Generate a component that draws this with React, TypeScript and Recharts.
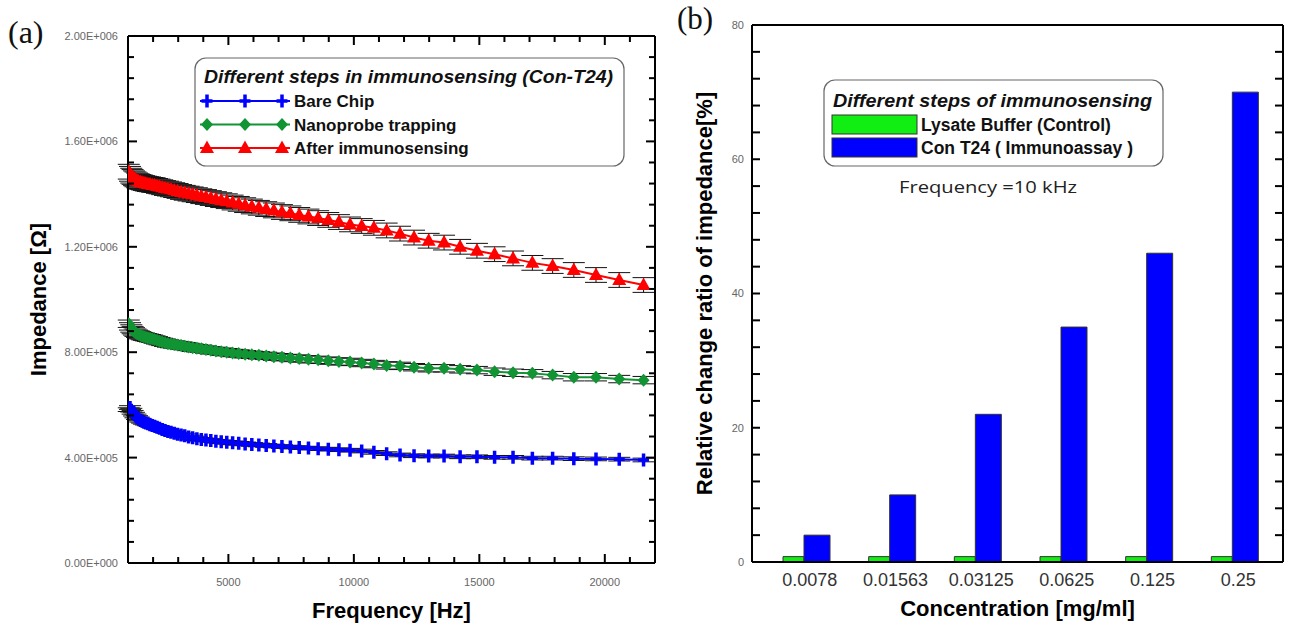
import React from 'react';
import { LineChart, ComposedChart, Line, XAxis, YAxis, ErrorBar, Legend, Bar, Label } from 'recharts';

const FONT = '"Liberation Sans", Arial, Helvetica, sans-serif';

// ---------- Panel (a) data ----------
const freqHz = [1031, 1080, 1131, 1184, 1240, 1298, 1359, 1424, 1491, 1561, 1634, 1711, 1792, 1877, 1965, 2058, 2155, 2256, 2363, 2474, 2591, 2713, 2841, 2975, 3115, 3261, 3415, 3576, 3745, 3921, 4106, 4299, 4502, 4714, 4936, 5169, 5412, 5667, 5934, 6214, 6507, 6813, 7134, 7471, 7823, 8191, 8577, 8982, 9405, 9848, 10312, 10798, 11307, 11840, 12398, 12982, 13594, 14234, 14905, 15608, 16343, 17113, 17920, 18765, 19649, 20575, 21544];

const bareChip = [582000, 590000, 580000, 572000, 565000, 558000, 552000, 547000, 542000, 538000, 534000, 531000, 528000, 525000, 522000, 519000, 515000, 511000, 507000, 503000, 499000, 496000, 492000, 489000, 486000, 483000, 478000, 475000, 472000, 469000, 467000, 465000, 462000, 460000, 458000, 456000, 454000, 452000, 450000, 448000, 446000, 444000, 442000, 440000, 438000, 436000, 434000, 432000, 430000, 428000, 425000, 420000, 415000, 410000, 407000, 406000, 406000, 403000, 403000, 401000, 401000, 398000, 398000, 396000, 395000, 394000, 391000];

const nanoprobeTrapping = [908000, 898000, 890000, 884000, 879000, 874000, 870000, 867000, 864000, 861000, 859000, 857000, 855000, 853000, 851000, 848000, 845000, 842000, 839000, 836000, 833000, 831000, 829000, 827000, 825000, 823000, 820000, 817000, 815000, 813000, 810000, 807000, 805000, 802000, 800000, 797000, 795000, 792000, 790000, 788000, 786000, 783000, 781000, 778000, 776000, 773000, 771000, 768000, 765000, 763000, 759000, 755000, 750000, 748000, 743000, 739000, 739000, 735000, 732000, 726000, 722000, 720000, 713000, 705000, 705000, 698000, 694000];

const afterImmunosensing = [1485000, 1477000, 1470000, 1465000, 1460000, 1456000, 1452000, 1449000, 1446000, 1444000, 1442000, 1440000, 1438000, 1437000, 1435000, 1434000, 1431000, 1429000, 1426000, 1423000, 1421000, 1418000, 1415000, 1412000, 1408000, 1405000, 1402000, 1399000, 1396000, 1392000, 1389000, 1385000, 1381000, 1377000, 1373000, 1368000, 1363000, 1358000, 1353000, 1348000, 1343000, 1338000, 1332000, 1327000, 1321000, 1315000, 1309000, 1302000, 1294000, 1285000, 1279000, 1272000, 1262000, 1250000, 1235000, 1223000, 1216000, 1200000, 1185000, 1172000, 1156000, 1139000, 1127000, 1112000, 1093000, 1074000, 1055000];

const bareChipErr = 7000;
const nanoprobeErr = 14000;
const afterErr = 28000;

const freqTicks = [1000, 2000, 3000, 4000, 5000, 6000, 7000, 8000, 9000, 10000, 11000, 12000, 13000, 14000, 15000, 16000, 17000, 18000, 19000, 20000, 21000, 22000];
const impedanceTicks = [0, 80000, 160000, 240000, 320000, 400000, 480000, 560000, 640000, 720000, 800000, 880000, 960000, 1040000, 1120000, 1200000, 1280000, 1360000, 1440000, 1520000, 1600000, 1680000, 1760000, 1840000, 1920000, 2000000];

const lineData = freqHz.map((f, i) => ({
  f,
  bare: bareChip[i],
  nano: nanoprobeTrapping[i],
  after: afterImmunosensing[i],
  bareErr: bareChipErr,
  nanoErr: nanoprobeErr,
  afterErr: afterErr,
}));

const lineSeries = [
  { key: 'bare', name: 'Bare Chip', color: '#0000ff', shape: 'plus' },
  { key: 'nano', name: 'Nanoprobe trapping', color: '#119433', shape: 'diamond' },
  { key: 'after', name: 'After immunosensing', color: '#ff0000', shape: 'triangle' },
];

// ---------- Panel (b) data ----------
const concentrations = ['0.0078', '0.01563', '0.03125', '0.0625', '0.125', '0.25'];
const lysateBuffer = [0.8, 0.8, 0.8, 0.8, 0.8, 0.8];
const conT24 = [4, 10, 22, 35, 46, 70];
const ratioTicks = [0, 4, 8, 12, 16, 20, 24, 28, 32, 36, 40, 44, 48, 52, 56, 60, 64, 68, 72, 76, 80];

const barData = concentrations.map((c, i) => ({ c, lysate: lysateBuffer[i], con: conT24[i] }));

const barSeries = [
  { key: 'lysate', name: 'Lysate Buffer (Control)', color: '#11ee11' },
  { key: 'con', name: 'Con T24 ( Immunoassay )', color: '#0000ff' },
];

// ---------- helpers ----------
function fmtSci(v: number) {
  const [m, e] = Number(v).toExponential(2).split('e');
  const sign = e[0] === '-' ? '-' : '+';
  const digits = e.replace(/[+-]/, '').padStart(3, '0');
  return `${m.toUpperCase()}E${sign}${digits}`;
}

function marker(shape: string, cx: number, cy: number, color: string, key?: string) {
  if (shape === 'plus') {
    return (
      <path key={key} d={`M${cx - 5.5},${cy}H${cx + 5.5}M${cx},${cy - 6.5}V${cy + 6.5}`} stroke={color} strokeWidth={3.5} fill="none" />
    );
  }
  if (shape === 'diamond') {
    return <polygon key={key} points={`${cx},${cy - 6.5} ${cx + 6},${cy} ${cx},${cy + 6.5} ${cx - 6},${cy}`} fill={color} />;
  }
  return <polygon key={key} points={`${cx},${cy - 7.5} ${cx + 7},${cy + 5} ${cx - 7},${cy + 5}`} fill={color} />;
}

const makeDot = (shape: string, color: string, prefix: string) => (p: any) => {
  if (p.cx == null || p.cy == null) return <g key={`${prefix}-${p.index}`} />;
  return marker(shape, p.cx, p.cy, color, `${prefix}-${p.index}`);
};

const LEFT_TM = 10;
const BOTTOM_TM = 15;

function LeftImpTick(props: any) {
  const x = Number(props.x);
  const y = Number(props.y);
  const v = Number(props.payload.value);
  const major = v % 400000 === 0;
  const ax = x + LEFT_TM;
  return (
    <g>
      <path d={`M${ax},${y}H${ax + (major ? 9 : 6)}`} stroke="#000" strokeWidth={2} fill="none" />
      {major && (
        <text x={x} y={y} dy="0.355em" textAnchor="end" fontSize={11} fill="#666" stroke="none" fontFamily={FONT}>
          {fmtSci(v)}
        </text>
      )}
    </g>
  );
}

function RightTick(props: any) {
  const x = Number(props.x);
  const y = Number(props.y);
  const major = Number(props.payload.value) % props.majorStep === 0;
  const len = major ? props.majorLen : props.minorLen;
  return <path d={`M${x},${y}H${x - len}`} stroke="#000" strokeWidth={2} fill="none" />;
}

function BottomFreqTick(props: any) {
  const x = Number(props.x);
  const y = Number(props.y);
  const v = Number(props.payload.value);
  const major = v % 5000 === 0;
  const ay = y - BOTTOM_TM;
  return (
    <g>
      <path d={`M${x},${ay}V${ay - (major ? 9 : 6)}`} stroke="#000" strokeWidth={2} fill="none" />
      {major && (
        <text x={x} y={y} dy="0.71em" textAnchor="middle" fontSize={11} fill="#666" stroke="none" fontFamily={FONT}>
          {v}
        </text>
      )}
    </g>
  );
}

function TopFreqTick(props: any) {
  const x = Number(props.x);
  const y = Number(props.y);
  const major = Number(props.payload.value) % 5000 === 0;
  return <path d={`M${x},${y}V${y + (major ? 9 : 6)}`} stroke="#000" strokeWidth={2} fill="none" />;
}

function LeftRatioTick(props: any) {
  const x = Number(props.x);
  const y = Number(props.y);
  const v = Number(props.payload.value);
  const major = v % 20 === 0;
  const ax = x + 8;
  return (
    <g>
      <path d={`M${ax},${y}H${ax + 8}`} stroke="#000" strokeWidth={2} fill="none" />
      {major && (
        <text x={x} y={y} dy="0.355em" textAnchor="end" fontSize={11} fill="#666" stroke="none" fontFamily={FONT}>
          {v}
        </text>
      )}
    </g>
  );
}

function LeftLegend() {
  return (
    <svg width={432} height={112} style={{ display: 'block' }}>
      <rect x={1} y={1} width={429} height={108} rx={11} ry={11} fill="#fff" stroke="#666" strokeWidth={1.2} />
      <text x={10} y={26} fontSize={18} textLength={409} lengthAdjust="spacingAndGlyphs" fontWeight="bold" fontStyle="italic" fontFamily={FONT} fill="#111">
        Different steps in immunosensing (Con-T24)
      </text>
      {lineSeries.map((s, i) => {
        const cy = 44 + i * 23.5;
        return (
          <g key={s.key}>
            <line x1={6} x2={96} y1={cy} y2={cy} stroke={s.color} strokeWidth={2} />
            {marker(s.shape, 13, cy, s.color)}
            {marker(s.shape, 51, cy, s.color)}
            {marker(s.shape, 88, cy, s.color)}
            <text x={100} y={cy} dy="0.36em" fontSize={17} fontWeight="bold" fontFamily={FONT} fill="#111">
              {s.name}
            </text>
          </g>
        );
      })}
    </svg>
  );
}

function RightLegend() {
  return (
    <svg width={342} height={90} style={{ display: 'block' }}>
      <rect x={1} y={1} width={339} height={86} rx={11} ry={11} fill="#fff" stroke="#666" strokeWidth={1.2} />
      <text x={10} y={28} fontSize={18.5} textLength={319} lengthAdjust="spacingAndGlyphs" fontWeight="bold" fontStyle="italic" fontFamily={FONT} fill="#111">
        Different steps of immunosensing
      </text>
      {barSeries.map((s, i) => {
        const top = 36 + i * 23;
        return (
          <g key={s.key}>
            <rect x={9} y={top} width={85} height={19} fill={s.color} stroke="#333" strokeWidth={1} />
            <text x={98} y={top + 9.5} dy="0.36em" fontSize={17.5} fontWeight="bold" fontFamily={FONT} fill="#111">
              {s.name}
            </text>
          </g>
        );
      })}
    </svg>
  );
}

const axisStroke = { stroke: '#000', strokeWidth: 2 };
const titleStyle = { fontSize: 22, fontWeight: 'bold', fontFamily: FONT, fill: '#000' } as any;

const FREQ_DOMAIN = [1000, 22000];
const IMP_DOMAIN = [0, 2000000];
const RATIO_DOMAIN = [0, 80];

export default function App() {
  return (
    <div style={{ position: 'relative', width: 1290, height: 624, overflow: 'hidden', background: '#fff' }}>
      <style>{`body{margin:0;}`}</style>

      <div style={{ position: 'absolute', left: 0, top: 0 }}>
        <LineChart width={662} height={624} data={lineData} margin={{ top: 35, right: 6, bottom: 0, left: 0 }}>
          <XAxis
            dataKey="f"
            type="number"
            domain={FREQ_DOMAIN}
            allowDataOverflow
            ticks={freqTicks}
            interval={0}
            height={61}
            tickSize={0}
            tickMargin={BOTTOM_TM}
            tickLine={false}
            axisLine={axisStroke}
            tick={<BottomFreqTick />}
          >
            <Label value="Frequency [Hz]" position="insideBottom" offset={6} style={titleStyle} />
          </XAxis>
          <XAxis
            xAxisId="top"
            dataKey="f"
            orientation="top"
            type="number"
            domain={FREQ_DOMAIN}
            allowDataOverflow
            ticks={freqTicks}
            interval={0}
            height={1}
            tickSize={0}
            tickMargin={0}
            tickLine={false}
            axisLine={axisStroke}
            tick={<TopFreqTick />}
          />
          <YAxis
            type="number"
            domain={IMP_DOMAIN}
            allowDataOverflow
            ticks={impedanceTicks}
            interval={0}
            width={128}
            tickSize={0}
            tickMargin={LEFT_TM}
            tickLine={false}
            axisLine={axisStroke}
            tick={<LeftImpTick />}
          >
            <Label value="Impedance [Ω]" angle={-90} position="insideLeft" offset={38} style={{ ...titleStyle, textAnchor: 'middle' }} />
          </YAxis>
          <YAxis
            yAxisId="right"
            orientation="right"
            type="number"
            domain={IMP_DOMAIN}
            allowDataOverflow
            ticks={impedanceTicks}
            interval={0}
            width={1}
            tickSize={0}
            tickMargin={0}
            tickLine={false}
            axisLine={axisStroke}
            tick={<RightTick majorStep={400000} majorLen={9} minorLen={6} />}
          />
          {/* invisible carrier series so the top/right frame axes are drawn */}
          <Line xAxisId="top" yAxisId="right" dataKey="after" stroke="none" dot={false} activeDot={false} legendType="none" isAnimationActive={false} />
          {lineSeries.map((s) => (
            <Line
              key={s.key}
              dataKey={s.key}
              name={s.name}
              stroke={s.color}
              strokeWidth={2}
              dot={makeDot(s.shape, s.color, s.key)}
              activeDot={false}
              isAnimationActive={false}
            >
              <ErrorBar dataKey={`${s.key}Err`} width={11} stroke="#111" strokeWidth={1} direction="y" />
            </Line>
          ))}
          <Legend
            layout="horizontal"
            verticalAlign="middle"
            align="center"
            wrapperStyle={{ left: 194, top: 57, width: 432, height: 112 }}
            content={() => <LeftLegend />}
          />
        </LineChart>
      </div>

      <div style={{ position: 'absolute', left: 662, top: 0 }}>
        <ComposedChart width={628} height={624} data={barData} margin={{ top: 24, right: 6, bottom: 0, left: 0 }} barGap={0}>
          <XAxis
            dataKey="c"
            type="category"
            padding={{ left: 12, right: 5 }}
            height={62}
            interval={0}
            tickSize={0}
            tickMargin={11}
            tickLine={false}
            axisLine={axisStroke}
            tick={{ fontSize: 18, fill: '#333', fontFamily: FONT, dx: 3 }}
          >
            <Label value="Concentration [mg/ml]" position="insideBottom" offset={8} style={titleStyle} />
          </XAxis>
          <XAxis
            xAxisId="top"
            dataKey="c"
            type="category"
            orientation="top"
            padding={{ left: 12, right: 5 }}
            height={1}
            tick={false}
            tickLine={false}
            axisLine={axisStroke}
          />
          <YAxis
            type="number"
            domain={RATIO_DOMAIN}
            allowDataOverflow
            ticks={ratioTicks}
            interval={0}
            width={90}
            tickSize={0}
            tickMargin={8}
            tickLine={false}
            axisLine={axisStroke}
            tick={<LeftRatioTick />}
          >
            <Label value="Relative change ratio of impedance[%]" angle={-90} position="insideLeft" offset={42} style={{ ...titleStyle, textAnchor: 'middle' }} />
          </YAxis>
          <YAxis
            yAxisId="right"
            orientation="right"
            type="number"
            domain={RATIO_DOMAIN}
            allowDataOverflow
            ticks={ratioTicks}
            interval={0}
            width={1}
            tickSize={0}
            tickMargin={0}
            tickLine={false}
            axisLine={axisStroke}
            tick={<RightTick majorStep={20} majorLen={8} minorLen={8} />}
          />
          <Bar dataKey="lysate" name={barSeries[0].name} fill={barSeries[0].color} stroke="#333" strokeWidth={1} barSize={21} isAnimationActive={false} />
          <Bar dataKey="con" name={barSeries[1].name} fill={barSeries[1].color} stroke="#333" strokeWidth={1} barSize={26} isAnimationActive={false} />
          {/* invisible carrier series so the top/right frame axes are drawn */}
          <Line xAxisId="top" yAxisId="right" dataKey="con" stroke="none" dot={false} activeDot={false} legendType="none" isAnimationActive={false} />
          <Legend
            layout="horizontal"
            verticalAlign="middle"
            align="center"
            wrapperStyle={{ left: 161, top: 79, width: 342, height: 90 }}
            content={() => <RightLegend />}
          />
        </ComposedChart>
      </div>

      <svg width={1290} height={624} style={{ position: 'absolute', left: 0, top: 0, pointerEvents: 'none' }}>
        <text x={8} y={43} fontSize={32} fontFamily='"Liberation Serif", "Times New Roman", serif' fill="#111">(a)</text>
        <text x={677} y={29} fontSize={31} fontFamily='"Liberation Serif", "Times New Roman", serif' fill="#111">(b)</text>
        <text x={899} y={193} fontSize={17} textLength={178} lengthAdjust="spacingAndGlyphs" fontFamily='"Open Sans", "Noto Sans", sans-serif' fill="#222">
          Frequency =10 kHz
        </text>
      </svg>
    </div>
  );
}
